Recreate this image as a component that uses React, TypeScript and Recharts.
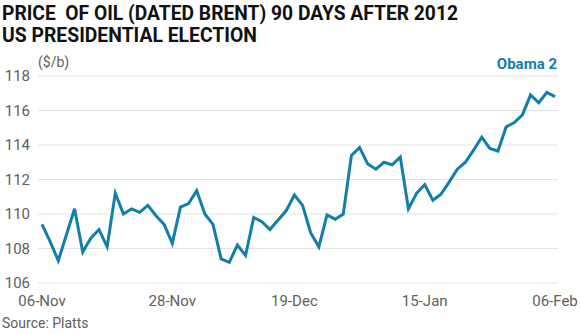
import React from "react";
import { LineChart, Line, XAxis, YAxis, CartesianGrid } from "recharts";

// trading days, 6 Nov 2012 - 6 Feb 2013
const dates = [
  "06-Nov", "07-Nov", "08-Nov", "09-Nov", "12-Nov", "13-Nov", "14-Nov", "15-Nov",
  "16-Nov", "19-Nov", "20-Nov", "21-Nov", "22-Nov", "23-Nov", "26-Nov", "27-Nov",
  "28-Nov", "29-Nov", "30-Nov", "03-Dec", "04-Dec", "05-Dec", "06-Dec", "07-Dec",
  "10-Dec", "11-Dec", "12-Dec", "13-Dec", "14-Dec", "17-Dec", "18-Dec", "19-Dec",
  "20-Dec", "21-Dec", "24-Dec", "27-Dec", "28-Dec", "31-Dec", "02-Jan", "03-Jan",
  "04-Jan", "07-Jan", "08-Jan", "09-Jan", "10-Jan", "11-Jan", "14-Jan", "15-Jan",
  "16-Jan", "17-Jan", "18-Jan", "21-Jan", "22-Jan", "23-Jan", "24-Jan", "25-Jan",
  "28-Jan", "29-Jan", "30-Jan", "31-Jan", "01-Feb", "04-Feb", "05-Feb", "06-Feb",
];

// Dated Brent, $/b
const brent = [
  109.4, 108.4, 107.3, 108.8, 110.3, 107.8, 108.6, 109.1,
  108.1, 111.2, 110.0, 110.3, 110.1, 110.5, 109.9, 109.4,
  108.3, 110.4, 110.6, 111.35, 110.0, 109.4, 107.4, 107.2,
  108.2, 107.6, 109.8, 109.55, 109.1, 109.65, 110.2, 111.1,
  110.5, 108.9, 108.1, 109.95, 109.7, 110.0, 113.4, 113.85,
  112.9, 112.6, 113.0, 112.85, 113.3, 110.3, 111.2, 111.7,
  110.8, 111.15, 111.85, 112.6, 113.0, 113.7, 114.45, 113.8,
  113.65, 115.05, 115.3, 115.75, 116.9, 116.45, 117.05, 116.8,
];

const xTicks = ["06-Nov", "28-Nov", "19-Dec", "15-Jan", "06-Feb"];
const yTicks = [106, 108, 110, 112, 114, 116, 118];

const data = dates.map((d, i) => ({ date: d, price: brent[i] }));

const BLUE = "#127fa9";
const GREY = "#606060";

export default function App() {
  return (
    <div
      style={{
        position: "absolute",
        left: 0,
        top: 0,
        width: 580,
        height: 334,
        background: "#fff",
        fontFamily: "Roboto, sans-serif",
      }}
    >
      <svg
        width={580}
        height={334}
        style={{ position: "absolute", left: 0, top: 0 }}
      >
        <text x={2} y={20} fontSize={21} fontWeight={700} fill="#111"
          textLength={456} lengthAdjust="spacingAndGlyphs"
          style={{ whiteSpace: "pre" }}>
          {"PRICE  OF OIL (DATED BRENT) 90 DAYS AFTER 2012"}
        </text>
        <text x={2} y={42} fontSize={21} fontWeight={700} fill="#111"
          textLength={255} lengthAdjust="spacingAndGlyphs">
          US PRESIDENTIAL ELECTION
        </text>
        <text x={38} y={67} fontSize={14} fill={GREY}>($/b)</text>
        <text x={557} y={69} fontSize={15} fontWeight={700} fill={BLUE} textAnchor="end">
          Obama 2
        </text>
        <text x={2} y={328} fontSize={14} fill={GREY}>Source: Platts</text>
      </svg>
      <div style={{ position: "absolute", left: 0, top: 0 }}>
        <LineChart
          width={580}
          height={334}
          data={data}
          margin={{ top: 76, right: 22, bottom: 21, left: 0 }}
        >
          <CartesianGrid vertical={false} stroke="#e3e3e3" strokeWidth={1} />
          <XAxis
            dataKey="date"
            ticks={xTicks}
            interval={0}
            height={30}
            padding={{ left: 4, right: 3 }}
            axisLine={false}
            tickLine={false}
            tickSize={0}
            tickMargin={12}
            tick={{ fontSize: 15, fill: GREY }}
          />
          <YAxis
            domain={[106, 118]}
            ticks={yTicks}
            width={38}
            axisLine={false}
            tickLine={false}
            tickSize={0}
            tickMargin={8}
            tick={{ fontSize: 15, fill: GREY }}
          />
          <Line
            type="linear"
            dataKey="price"
            stroke={BLUE}
            strokeWidth={3}
            dot={false}
            isAnimationActive={false}
          />
        </LineChart>
      </div>
    </div>
  );
}
